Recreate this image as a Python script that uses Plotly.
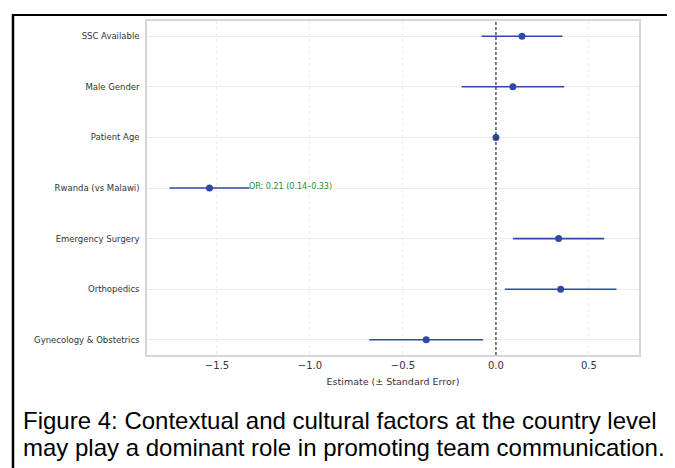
import plotly.graph_objects as go

# ---- data (top to bottom) ----
labels = ["SSC Available", "Male Gender", "Patient Age", "Rwanda (vs Malawi)",
          "Emergency Surgery", "Orthopedics", "Gynecology & Obstetrics"]
estimates = [0.14, 0.091, 0.0, -1.54, 0.337, 0.348, -0.375]
std_err = [0.217, 0.276, 0.005, 0.215, 0.245, 0.30, 0.306]
or_label = "OR: 0.21 (0.14–0.33)"
or_row = "Rwanda (vs Malawi)"
x_ticks = [-1.5, -1.0, -0.5, 0.0, 0.5]
x_tick_text = ["−1.5", "−1.0", "−0.5", "0.0", "0.5"]
caption_lines = ["Figure 4: Contextual and cultural factors at the country level",
                 "may play a dominant role in promoting team communication."]

OFF = 8  # page body margin
W, H = 675 - OFF, 468 - OFF
L, R, T, B = 147, 639, 19, 355  # plot area in page pixels


def px_x(p):
    return (p - L) / (R - L)


def px_y(p):
    return (B - p) / (B - T)


blue = "#2d4aa8"
fig = go.Figure()
fig.add_trace(go.Scatter(
    x=estimates, y=labels, mode="markers",
    marker=dict(color=blue, size=7),
    error_x=dict(type="data", array=std_err, color=blue, thickness=1.6, width=0),
    showlegend=False, hoverinfo="x+y",
))

i = labels.index(or_row)
fig.add_annotation(x=estimates[i] + std_err[i], y=or_row, text=or_label, showarrow=False,
                   xanchor="left", yanchor="middle", yshift=2, xshift=-2,
                   font=dict(family="DejaVu Sans", size=8, color="#22922b"))

# zero reference line
fig.add_shape(type="line", xref="x", yref="paper", x0=0, x1=0, y0=0, y1=1,
              line=dict(color="#333333", width=1.2, dash="3px,2px"))

# outer frame (open at the bottom of the picture)
fig.add_annotation(x=px_x(12), y=px_y(12), xref="paper", yref="paper",
                   xanchor="left", yanchor="top", text=" ", showarrow=False,
                   width=654, height=490, align="left", valign="top",
                   bordercolor="black", borderwidth=2, borderpad=0,
                   font=dict(size=2))
fig.add_shape(type="line", xref="paper", yref="paper",
              x0=px_x(13), x1=px_x(13), y0=px_y(12), y1=px_y(470),
              line=dict(color="black", width=2.5), layer="above")

# caption
for k, line in enumerate(caption_lines):
    fig.add_annotation(x=px_x(21), y=px_y(421 + 27 * k), xref="paper", yref="paper",
                       text=line, showarrow=False, xanchor="left", yanchor="middle",
                       font=dict(family="Liberation Sans, Arial", size=24.0, color="black"))

fig.update_layout(
    width=W, height=H,
    margin=dict(l=L - OFF, r=675 - R, t=T - OFF, b=468 - B, pad=0),
    paper_bgcolor="white", plot_bgcolor="white",
    font=dict(family="DejaVu Sans", color="#333333"),
)
fig.update_xaxes(
    range=[-1.876, 0.769], tickvals=x_ticks, ticktext=x_tick_text,
    tickfont=dict(size=10, color="#333333"),
    showgrid=True, gridcolor="#ececec", griddash="dot", gridwidth=1,
    zeroline=False, showline=True, linecolor="#d6d6d6", linewidth=1.5, mirror=True,
    ticks="", title=dict(text="Estimate (± Standard Error)", font=dict(size=9.5, color="#333333"),
                         standoff=9),
)
fig.update_yaxes(
    type="category", categoryorder="array", categoryarray=labels,
    range=[6.3, -0.3],
    tickfont=dict(size=8.5, color="#333333"),
    showgrid=True, gridcolor="#ececec", gridwidth=1,
    zeroline=False, showline=True, linecolor="#d6d6d6", linewidth=1.5, mirror=True,
    ticks="", ticklabelstandoff=4,
)

fig.write_html("out.html")
